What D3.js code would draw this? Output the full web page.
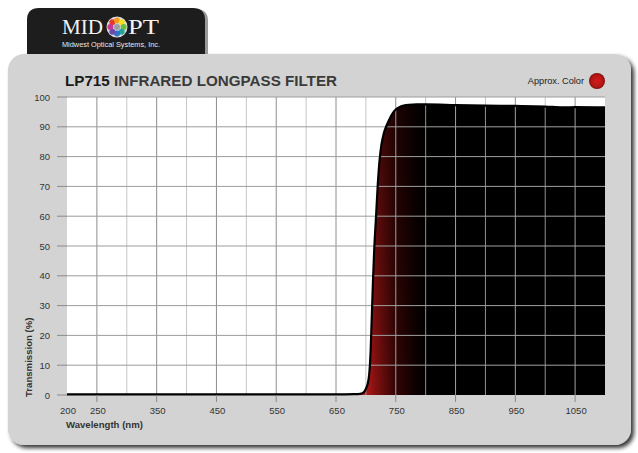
<!DOCTYPE html>
<html>
<head>
<meta charset="utf-8">
<script src="https://cdn.jsdelivr.net/npm/d3@7"></script>
<style>
body { margin:0; background:#fff; }
text { font-family: "Liberation Sans", Arial, sans-serif; }
</style>
</head>
<body>
<script>

// measured transmission curve (nm, %)
var wavelengths = [200, 300, 400, 500, 600, 650, 680, 690, 695, 698, 700, 703, 705, 706, 707, 708, 709, 710, 711, 712, 714, 717, 720, 723, 726, 730, 735, 740, 745, 750, 756, 763, 772, 785, 800, 850, 900, 950, 1000, 1030, 1050, 1100];
var transmission = [0.2, 0.2, 0.2, 0.2, 0.2, 0.2, 0.3, 0.4, 0.7, 1.3, 2.1, 3.8, 6, 8, 11, 15, 21, 27, 33, 39, 49, 60, 71, 79, 84, 87.8, 90.6, 92.8, 94.6, 95.8, 96.6, 97.1, 97.4, 97.5, 97.5, 97.3, 97.1, 97.0, 96.8, 96.5, 96.6, 96.5];

var xTickLabels = [200, 250, 350, 450, 550, 650, 750, 850, 950, 1050];
var yTicks = [0, 10, 20, 30, 40, 50, 60, 70, 80, 90, 100];
var gridMajor = [250, 350, 450, 550, 650, 750, 850, 950, 1050];
var gridMinor = [300, 400, 500, 600, 700, 800, 900, 1000];

var data = wavelengths.map(function(d,i) { return {w:d, t:transmission[i]}; });

var svg = d3.select('body').append('svg')
    .attr('width', 638)
    .attr('height', 453);

var defs = svg.append('defs');

var shadow = defs.append('filter').attr('id','shadow')
    .attr('x','-5%').attr('y','-5%').attr('width','115%').attr('height','115%');
shadow.append('feGaussianBlur').attr('in','SourceAlpha').attr('stdDeviation',2);
shadow.append('feOffset').attr('dx',3).attr('dy',3).attr('result','ob');
shadow.append('feComponentTransfer').append('feFuncA').attr('type','linear').attr('slope',0.8);
var fm = shadow.append('feMerge');
fm.append('feMergeNode');
fm.append('feMergeNode').attr('in','SourceGraphic');

var x = d3.scaleLinear().domain([200, 1100]).range([67, 605]);
var y = d3.scaleLinear().domain([0, 100]).range([395, 97]);

// logo tab
svg.append('path')
    .attr('d','M 27 56 V 20 Q 27 8 39 8 H 193 Q 205 8 205 20 V 56 Z')
    .attr('fill','#9a9a9a')
    .attr('transform','translate(3,1)');
svg.append('path')
    .attr('d','M 27 56 V 20 Q 27 8 39 8 H 193 Q 205 8 205 20 V 56 Z')
    .attr('fill','#1d1d1d');

svg.append('text').attr('x',62).attr('y',34)
    .style('font-family','"Liberation Serif", "DejaVu Serif", serif')
    .style('font-size','20px').attr('textLength',41).attr('lengthAdjust','spacingAndGlyphs')
    .attr('fill','#f2f2f2').text('MID');
svg.append('text').attr('x',128).attr('y',34)
    .style('font-family','"Liberation Serif", "DejaVu Serif", serif')
    .style('font-size','20px').attr('textLength',31).attr('lengthAdjust','spacingAndGlyphs')
    .attr('fill','#f2f2f2').text('PT');
svg.append('text').attr('x',62).attr('y',47)
    .style('font-size','6.5px').attr('textLength',98).attr('lengthAdjust','spacingAndGlyphs')
    .attr('fill','#e8e8e8').text('Midwest Optical Systems, Inc.');

var dotColors = ['#e53a2f','#f39a1f','#f4e11c','#6cbf3a','#1fa89a','#2f72c6','#6a49b0','#c7368f'];
svg.append('circle').attr('cx',117).attr('cy',27).attr('r',10.5).attr('fill','#ddd');
svg.selectAll('.logodot').data(dotColors).enter().append('circle')
    .attr('class','logodot')
    .attr('cx', function(d,i) { return 117 + 6.6*Math.cos(i*Math.PI/4 - Math.PI*0.75); })
    .attr('cy', function(d,i) { return 27 + 6.6*Math.sin(i*Math.PI/4 - Math.PI*0.75); })
    .attr('r', 3)
    .attr('fill', function(d) { return d; });
svg.append('circle').attr('cx',117).attr('cy',27).attr('r',3).attr('fill','#9aa0a8');

// panel
svg.append('rect')
    .attr('x',8).attr('y',54).attr('width',623).attr('height',391)
    .attr('rx',16).attr('ry',16)
    .attr('fill','#d3d3d3')
    .attr('filter','url(#shadow)');

// plot background
svg.append('rect')
    .attr('x',x(200)).attr('y',y(100))
    .attr('width',x(1100)-x(200)).attr('height',y(0)-y(100))
    .attr('fill','#fff');

function drawGrid(g, majorCol, minorCol, hCol) {
  g.selectAll('.vmin').data(gridMinor).enter().append('line')
      .attr('x1',function(d){return x(d);}).attr('x2',function(d){return x(d);})
      .attr('y1',y(100)).attr('y2',y(0))
      .attr('stroke',minorCol).attr('stroke-width',1);
  g.selectAll('.vmaj').data(gridMajor).enter().append('line')
      .attr('x1',function(d){return x(d);}).attr('x2',function(d){return x(d);})
      .attr('y1',y(100)).attr('y2',y(0))
      .attr('stroke',majorCol).attr('stroke-width',1);
  g.selectAll('.hl').data(yTicks.slice(1)).enter().append('line')
      .attr('x1',x(200)).attr('x2',x(1100))
      .attr('y1',function(d){return y(d);}).attr('y2',function(d){return y(d);})
      .attr('stroke',hCol).attr('stroke-width',1);
}
drawGrid(svg.append('g'), '#8e8e8e', '#c6c6c6', '#9c9c9c');

// fill under curve
var hg = defs.append('linearGradient').attr('id','redfade')
    .attr('gradientUnits','userSpaceOnUse')
    .attr('x1',x(700)).attr('x2',x(805)).attr('y1',0).attr('y2',0);
hg.append('stop').attr('offset',0).attr('stop-color','#b01818');
hg.append('stop').attr('offset',0.15).attr('stop-color','#851010');
hg.append('stop').attr('offset',0.45).attr('stop-color','#380505');
hg.append('stop').attr('offset',0.8).attr('stop-color','#0c0000');
hg.append('stop').attr('offset',1).attr('stop-color','#000');

var vg = defs.append('linearGradient').attr('id','topdark')
    .attr('gradientUnits','userSpaceOnUse')
    .attr('x1',0).attr('x2',0).attr('y1',y(0)).attr('y2',y(100));
vg.append('stop').attr('offset',0).attr('stop-color','#000').attr('stop-opacity',0);
vg.append('stop').attr('offset',1).attr('stop-color','#000').attr('stop-opacity',0.45);

var area = d3.area()
    .x(function(d){return x(d.w);})
    .y0(y(0))
    .y1(function(d){return y(d.t);})
    .curve(d3.curveMonotoneX);

defs.append('clipPath').attr('id','areaclip')
    .append('path').attr('d', area(data));

svg.append('path').attr('d', area(data)).attr('fill','url(#redfade)');
svg.append('path').attr('d', area(data)).attr('fill','url(#topdark)');

// grid showing on top of the dark fill
drawGrid(svg.append('g').attr('clip-path','url(#areaclip)'), '#a0a0a0', '#909090', '#a0a0a0');

// curve
var line = d3.line()
    .x(function(d){return x(d.w);})
    .y(function(d){return y(d.t);})
    .curve(d3.curveMonotoneX);

svg.append('path')
    .attr('d', line(data))
    .attr('fill','none')
    .attr('stroke','#000')
    .attr('stroke-width',2.2)
    .attr('stroke-linejoin','round');

// y ticks and labels
svg.selectAll('.ytick').data(yTicks).enter().append('line')
    .attr('x1',57).attr('x2',x(200))
    .attr('y1',function(d){return y(d);}).attr('y2',function(d){return y(d);})
    .attr('stroke','#8a8a8a').attr('stroke-width',1);
svg.selectAll('.ylab').data(yTicks).enter().append('text')
    .attr('x',50).attr('y',function(d){return y(d)+3.5;})
    .attr('text-anchor','end')
    .style('font-size','9.5px').attr('fill','#333')
    .text(function(d){return d;});

// x ticks and labels
svg.selectAll('.xtick').data(gridMajor).enter().append('line')
    .attr('x1',function(d){return x(d);}).attr('x2',function(d){return x(d);})
    .attr('y1',y(0)).attr('y2',y(0)+7)
    .attr('stroke','#8a8a8a').attr('stroke-width',1);
svg.selectAll('.xlab').data(xTickLabels).enter().append('text')
    .attr('x',function(d){return x(d)+1;}).attr('y',414)
    .attr('text-anchor','middle')
    .style('font-size','9.5px').attr('fill','#333')
    .text(function(d){return d;});

// axis titles
svg.append('text').attr('x',66).attr('y',428)
    .style('font-size','9.6px').style('font-weight','bold').attr('fill','#333')
    .text('Wavelength (nm)');
svg.append('text')
    .attr('transform','translate(32,397) rotate(-90)')
    .style('font-size','9.6px').style('font-weight','bold').attr('fill','#333')
    .text('Transmission (%)');

// title
var title = svg.append('text').attr('x',65).attr('y',86)
    .style('font-size','15.2px').style('font-weight','bold');
title.append('tspan').attr('fill','#1a1a1a').text('LP715');
title.append('tspan').attr('fill','#3a3a3a').text(' INFRARED LONGPASS FILTER');

// approx color
svg.append('text').attr('x',584).attr('y',84)
    .attr('text-anchor','end')
    .style('font-size','9.2px').attr('fill','#222')
    .text('Approx. Color');
var rg = defs.append('radialGradient').attr('id','dot');
rg.append('stop').attr('offset',0).attr('stop-color','#d21a1a');
rg.append('stop').attr('offset',0.75).attr('stop-color','#b51515');
rg.append('stop').attr('offset',1).attr('stop-color','#7a0d0d');
svg.append('circle').attr('cx',597).attr('cy',81).attr('r',8)
    .attr('fill','url(#dot)');

</script>
</body>
</html>
